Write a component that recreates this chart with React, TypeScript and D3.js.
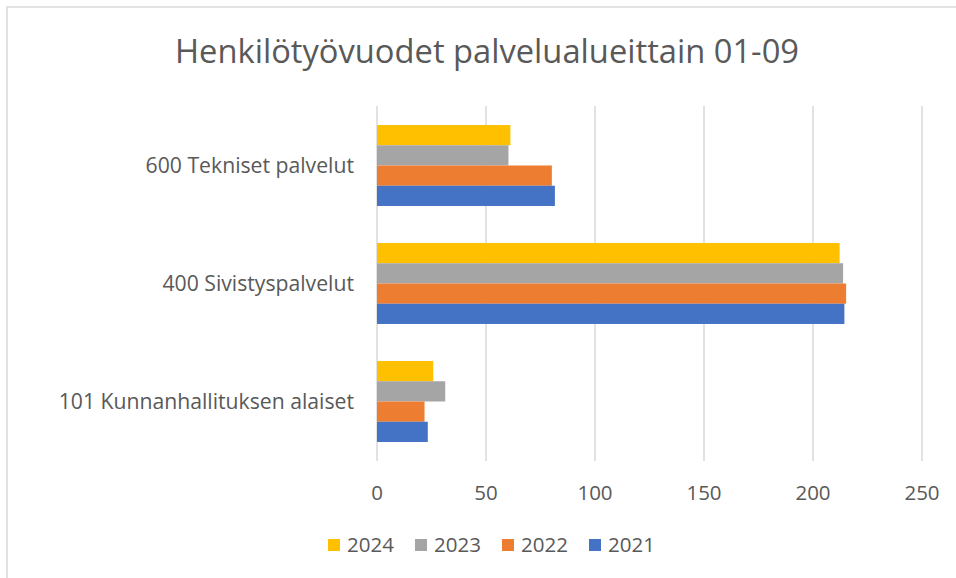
import React from "react";
import * as d3 from "d3";

const categories = ["600 Tekniset palvelut", "400 Sivistyspalvelut", "101 Kunnanhallituksen alaiset"];
const seriesNames = ["2024", "2023", "2022", "2021"];
const values2024 = [61.2, 212.2, 25.8];
const values2023 = [60.3, 213.8, 31.3];
const values2022 = [80.2, 215.2, 21.8];
const values2021 = [81.6, 214.4, 23.3];
const colors = ["#FFC000", "#A5A5A5", "#ED7D31", "#4472C4"];
const xTicks = [0, 50, 100, 150, 200, 250];
const title = "Henkilötyövuodet palvelualueittain 01-09";

const seriesValues = [values2024, values2023, values2022, values2021];

const W = 956;
const H = 578;
const FONT = "'Open Sans', 'Noto Sans', sans-serif";
const TEXT = "#595959";
const FS = 20.5;

export default function App() {
  const x = d3.scaleLinear().domain([0, 250]).range([377, 922]);
  const y = d3
    .scaleBand<string>()
    .domain(categories)
    .range([106.5, 460.5])
    .paddingInner(0.314)
    .paddingOuter(0.157);
  const sub = d3.scaleBand<string>().domain(seriesNames).range([0, y.bandwidth()]);

  const legendStart = 328;
  const legendStep = 87;

  return (
    <div style={{ position: "absolute", left: 0, top: 0 }}>
      <svg width={W} height={H} style={{ display: "block", background: "#fff" }}>
        <rect x={7} y={7} width={W + 10} height={H + 10} fill="#fff" stroke="#d9d9d9" strokeWidth={1.5} />
        <text
          x={487}
          y={63}
          textAnchor="middle"
          fontFamily={FONT}
          fontSize={32.7}
          fill={TEXT}
        >
          {title}
        </text>
        {xTicks.map((t) => (
          <line
            key={"g" + t}
            x1={x(t)}
            x2={x(t)}
            y1={106}
            y2={461}
            stroke="#d9d9d9"
            strokeWidth={1.5}
          />
        ))}
        {categories.map((c, ci) =>
          seriesNames.map((s, si) => (
            <rect
              key={c + s}
              x={x(0)}
              y={(y(c) as number) + (sub(s) as number)}
              width={x(seriesValues[si][ci]) - x(0)}
              height={sub.bandwidth()}
              fill={colors[si]}
            />
          ))
        )}
        {categories.map((c) => (
          <text
            key={"l" + c}
            x={354}
            y={(y(c) as number) + y.bandwidth() / 2}
            dy="0.35em"
            textAnchor="end"
            fontFamily={FONT}
            fontSize={21.2}
            fill={TEXT}
          >
            {c}
          </text>
        ))}
        {xTicks.map((t) => (
          <text
            key={"t" + t}
            x={x(t)}
            y={493}
            dy="0.35em"
            textAnchor="middle"
            fontFamily={FONT}
            fontSize={FS}
            fill={TEXT}
          >
            {t}
          </text>
        ))}
        {seriesNames.map((s, i) => (
          <g key={"lg" + s} transform={`translate(${legendStart + i * legendStep},545)`}>
            <rect x={0} y={-6} width={12} height={12} fill={colors[i]} />
            <text x={19} y={0} dy="0.35em" fontFamily={FONT} fontSize={FS} fill={TEXT}>
              {s}
            </text>
          </g>
        ))}
      </svg>
    </div>
  );
}
